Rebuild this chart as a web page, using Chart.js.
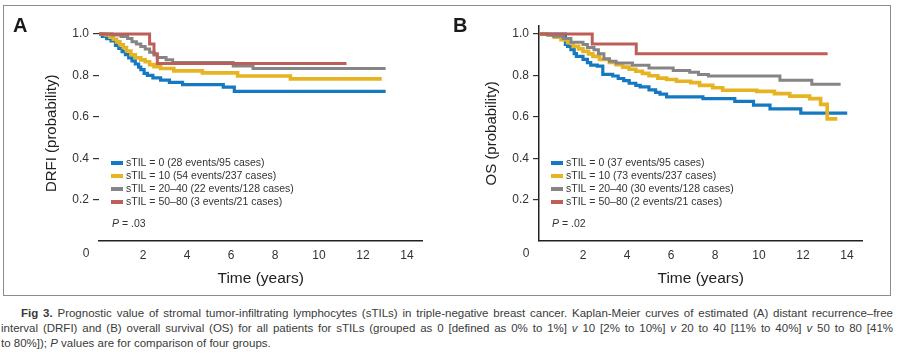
<!DOCTYPE html>
<html>
<head>
<meta charset="utf-8">
<script src="https://cdn.jsdelivr.net/npm/chart.js@4.4.1/dist/chart.umd.min.js"></script>
<style>
html,body{margin:0;padding:0;background:#fff;}
body{width:900px;height:356px;position:relative;overflow:hidden;font-family:'Liberation Sans',Arial,sans-serif;}
#frame{position:absolute;left:3px;top:5px;width:888px;height:291px;border:1.5px solid #8c8c8c;box-sizing:border-box;}
canvas{position:absolute;top:0;}
#cA{left:0;}
#cB{left:450px;}
.panel{position:absolute;top:15px;font-weight:bold;font-size:20px;line-height:20px;color:#1a1a1a;}
#cap{position:absolute;left:1px;top:306px;width:892px;font-size:11.5px;line-height:15px;color:#3a3a3a;}
.ln{height:15px;white-space:nowrap;overflow:visible;}
</style>
</head>
<body>
<div id="frame"></div>
<canvas id="cA" width="450" height="300"></canvas>
<canvas id="cB" width="450" height="300"></canvas>
<div class="panel" style="left:13px;">A</div>
<div class="panel" style="left:453px;">B</div>
<div id="cap">
<div class="ln fit" style="padding-left:20px;"><span><b>Fig 3.</b> Prognostic value of stromal tumor-infiltrating lymphocytes (sTILs) in triple-negative breast cancer. Kaplan-Meier curves of estimated (A) distant recurrence–free</span></div>
<div class="ln fit"><span>interval (DRFI) and (B) overall survival (OS) for all patients for sTILs (grouped as 0 [defined as 0% to 1%] <i>v</i> 10 [2% to 10%] <i>v</i> 20 to 40 [11% to 40%] <i>v</i> 50 to 80 [41%</span></div>
<div class="ln"><span>to 80%]); <i>P</i> values are for comparison of four groups.</span></div>
</div>
<script>
// ---------- data ----------
const groups = ['sTIL = 0', 'sTIL = 10', 'sTIL = 20–40', 'sTIL = 50–80'];
const drfiEvents = ['28 events/95 cases', '54 events/237 cases', '22 events/128 cases', '3 events/21 cases'];
const osEvents = ['37 events/95 cases', '73 events/237 cases', '30 events/128 cases', '2 events/21 cases'];
const xTicks = [0, 2, 4, 6, 8, 10, 12, 14];
const yTicks = [0.2, 0.4, 0.6, 0.8, 1.0];
const pDRFI = '.03';
const pOS = '.02';

// Panel A: DRFI
const drfiTime0 = [0, 0.15, 0.35, 0.55, 0.75, 0.9, 1.05, 1.2, 1.35, 1.5, 1.65, 1.8, 1.9, 2.05, 2.2, 2.45, 2.8, 3.2, 3.8, 5.65, 6.15, 13.03];
const drfiSurv0 = [1, 0.989, 0.978, 0.967, 0.945, 0.93, 0.915, 0.9, 0.885, 0.87, 0.855, 0.84, 0.828, 0.81, 0.8, 0.788, 0.777, 0.766, 0.755, 0.743, 0.723, 0.723];
const drfiTime10 = [0, 0.3, 0.5, 0.65, 0.8, 0.95, 1.1, 1.25, 1.45, 1.65, 1.9, 2.1, 2.3, 2.5, 2.8, 3.4, 4.7, 6.3, 8.7, 12.85];
const drfiSurv10 = [1, 0.995, 0.985, 0.975, 0.962, 0.948, 0.935, 0.918, 0.9, 0.885, 0.875, 0.866, 0.852, 0.842, 0.833, 0.822, 0.812, 0.797, 0.783, 0.783];
const drfiTime20 = [0, 0.6, 1.0, 1.3, 1.5, 1.7, 1.9, 2.1, 2.3, 2.5, 2.65, 3.05, 3.35, 6.1, 7.0, 13.03];
const drfiSurv20 = [1, 0.995, 0.988, 0.978, 0.962, 0.952, 0.94, 0.928, 0.912, 0.898, 0.886, 0.876, 0.862, 0.845, 0.833, 0.833];
const drfiTime50 = [0, 2.3, 2.5, 2.65, 11.25];
const drfiSurv50 = [1, 0.952, 0.905, 0.857, 0.857];

// Panel B: OS
const osTime0 = [0, 1.2, 1.3, 1.45, 1.6, 1.7, 2.0, 2.2, 2.35, 2.65, 2.9, 3.35, 3.6, 3.85, 4.1, 4.4, 4.6, 5.0, 5.3, 5.5, 5.8, 7.45, 8.9, 9.75, 10.5, 11.9, 14.01];
const osSurv0 = [1, 0.95, 0.94, 0.925, 0.905, 0.892, 0.877, 0.862, 0.85, 0.845, 0.805, 0.797, 0.785, 0.775, 0.762, 0.752, 0.745, 0.73, 0.718, 0.71, 0.696, 0.688, 0.675, 0.656, 0.638, 0.618, 0.618];
const osTime10 = [0, 0.4, 0.7, 1.0, 1.3, 1.55, 1.8, 2.0, 2.25, 2.45, 2.75, 3.2, 3.5, 3.8, 4.1, 4.4, 4.7, 5.0, 5.4, 5.8, 6.25, 6.9, 7.3, 7.9, 8.35, 9.9, 10.7, 11.4, 12.3, 12.8, 13.1, 13.56];
const osSurv10 = [1, 0.995, 0.985, 0.972, 0.958, 0.94, 0.928, 0.916, 0.904, 0.892, 0.877, 0.862, 0.852, 0.84, 0.83, 0.82, 0.81, 0.798, 0.787, 0.78, 0.772, 0.765, 0.752, 0.74, 0.728, 0.723, 0.712, 0.7, 0.688, 0.66, 0.59, 0.59];
const osTime20 = [0, 0.4, 0.65, 1.1, 1.45, 2.0, 2.2, 2.5, 2.7, 2.95, 3.2, 3.5, 4.25, 5.0, 6.1, 6.85, 7.25, 7.7, 10.95, 12.4, 13.71];
const osSurv20 = [1, 0.995, 0.989, 0.978, 0.96, 0.949, 0.935, 0.924, 0.905, 0.88, 0.868, 0.86, 0.849, 0.836, 0.824, 0.815, 0.804, 0.797, 0.776, 0.757, 0.757];
const osTime50 = [0, 2.42, 4.42, 13.12];
const osSurv50 = [1, 0.952, 0.905, 0.905];

// ---------- caption fitting (justify each full line) ----------
document.querySelectorAll('#cap .fit').forEach(div => {
  const span = div.firstElementChild;
  const pad = parseFloat(getComputedStyle(div).paddingLeft) || 0;
  const target = div.clientWidth - pad;
  const natural = span.getBoundingClientRect().width;
  if (natural > target) {
    const chars = span.textContent.length;
    span.style.letterSpacing = ((target - natural) / chars) + 'px';
  } else {
    const spaces = (span.textContent.match(/ /g) || []).length;
    span.style.wordSpacing = ((target - natural) / spaces) + 'px';
  }
});

// ---------- styling ----------
const FONT = "'Liberation Sans', Arial, sans-serif";
Chart.defaults.font.family = FONT;
const colors = ['#1479c0', '#e6b422', '#858585', '#bd5f58'];
const widths = [3.2, 3.6, 3, 3];
const orders = [3, 2, 1, 0];

const kmLegend = {
  id: 'kmLegend',
  afterDraw(chart, args, opts) {
    const {ctx, chartArea} = chart;
    const L = chartArea.left, T = chartArea.top;
    ctx.save();
    ctx.textBaseline = 'middle';
    ctx.textAlign = 'left';
    chart.data.datasets.forEach((ds, i) => {
      const y = T + opts.top + i * opts.row;
      ctx.fillStyle = ds.borderColor;
      ctx.fillRect(L + opts.sw, y - 2, 12, 4);
      ctx.fillStyle = '#333';
      ctx.font = '10.5px ' + FONT;
      ctx.fillText(ds.label, L + opts.sw + 15, y);
    });
    const py = T + opts.pTop;
    ctx.fillStyle = '#333';
    ctx.font = 'italic 10.5px ' + FONT;
    ctx.fillText('P', L + opts.sw + 1, py);
    const w = ctx.measureText('P').width;
    ctx.font = '10.5px ' + FONT;
    ctx.fillText(' = ' + opts.p, L + opts.sw + 1 + w, py);
    // the "0" time label sits left of the axis origin
    const xs = chart.scales.x;
    ctx.font = '12px ' + FONT;
    ctx.textAlign = 'center';
    ctx.fillText(String(xTicks[0]), xs.getPixelForValue(xTicks[0]) - 13, chartArea.bottom + 13);
    ctx.restore();
  }
};

function series(t, s) { return t.map((v, j) => ({x: v, y: s[j]})); }

function makeChart(id, sets, events, cfg) {
  return new Chart(document.getElementById(id), {
    type: 'line',
    data: {
      datasets: sets.map((s, i) => ({
        label: groups[i] + ' (' + events[i] + ')',
        data: series(s[0], s[1]),
        borderColor: colors[i],
        backgroundColor: colors[i],
        borderWidth: widths[i],
        stepped: 'before',
        pointRadius: 0,
        fill: false,
        order: orders[i]
      }))
    },
    options: {
      responsive: false,
      animation: false,
      devicePixelRatio: 1,
      layout: {padding: {left: 0, right: cfg.padR, top: 25.72, bottom: 0}},
      plugins: {
        legend: {display: false},
        tooltip: {enabled: false},
        kmLegend: {top: 137.3, row: 13, sw: 12, pTop: 198.3, p: cfg.p}
      },
      scales: {
        x: {
          type: 'linear', min: 0, max: 14.7,
          afterBuildTicks: s => { s.ticks = xTicks.map(v => ({value: v})); },
          afterFit: s => { s.height = 59; },
          grid: {display: true, drawOnChartArea: false, drawTicks: false},
          border: {display: true, color: '#222', width: 1.5},
          ticks: {padding: 7, font: {size: 12}, color: '#333', autoSkip: false, maxRotation: 0,
                  callback: v => (v === xTicks[0] ? '' : String(v))},
          title: {display: true, text: 'Time (years)', font: {size: 15.5}, color: '#222', padding: {top: 0, bottom: 12}}
        },
        y: {
          type: 'linear', min: 0, max: 1.04,
          afterBuildTicks: s => { s.ticks = yTicks.map(v => ({value: v})); },
          afterFit: s => { s.width = cfg.yW; },
          grid: {display: true, drawOnChartArea: false, drawTicks: true, tickLength: 6, color: '#333', lineWidth: 1.2},
          border: {display: cfg.yBorder, color: '#222', width: 1.5},
          ticks: {padding: 4, font: {size: 12}, color: '#333', callback: v => Number(v).toFixed(1)},
          title: {display: true, text: cfg.yTitle, font: {size: 15}, color: '#222', padding: {top: cfg.yTitlePad, bottom: 0}}
        }
      }
    },
    plugins: [kmLegend]
  });
}

makeChart('cA',
  [[drfiTime0, drfiSurv0], [drfiTime10, drfiSurv10], [drfiTime20, drfiSurv20], [drfiTime50, drfiSurv50]],
  drfiEvents,
  {padR: 27.6, yW: 99, yBorder: false, yTitle: 'DRFI (probability)', yTitlePad: 43, p: pDRFI});

makeChart('cB',
  [[osTime0, osSurv0], [osTime10, osSurv10], [osTime20, osSurv20], [osTime50, osSurv50]],
  osEvents,
  {padR: 37.6, yW: 89, yBorder: true, yTitle: 'OS (probability)', yTitlePad: 33, p: pOS});
</script>
</body>
</html>
